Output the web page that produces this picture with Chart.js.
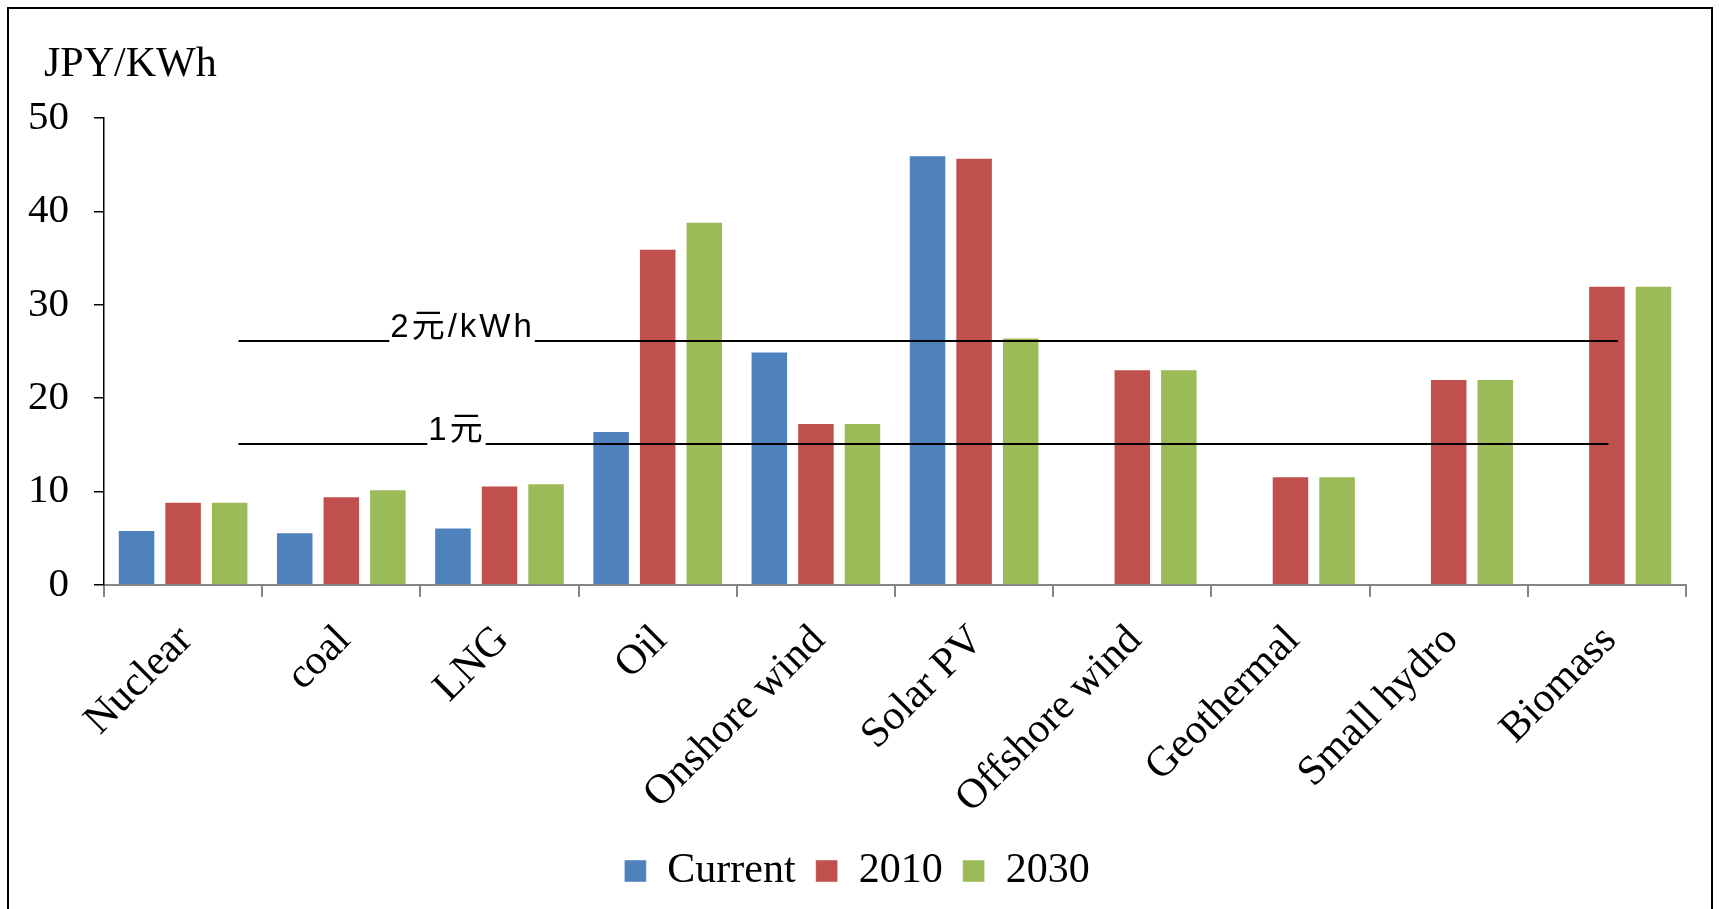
<!DOCTYPE html>
<html>
<head>
<meta charset="utf-8">
<script src="https://cdn.jsdelivr.net/npm/chart.js@4.4.0/dist/chart.umd.min.js"></script>
<style>
  html, body { margin: 0; padding: 0; background: #fff; }
  #wrap { width: 1719px; height: 909px; position: relative; }
</style>
</head>
<body>
<div id="wrap"><canvas id="chart"></canvas></div>
<script>
  var categories = ['Nuclear', 'coal', 'LNG', 'Oil', 'Onshore wind', 'Solar PV', 'Offshore wind', 'Geothermal', 'Small hydro', 'Biomass'];
  var current = [5.9, 5.65, 6.15, 16.5, 25.0, 46.0, null, null, null, null];
  var y2010 = [8.9, 9.5, 10.65, 36.0, 17.35, 45.75, 23.1, 11.65, 22.05, 32.05];
  var y2030 = [8.9, 10.25, 10.9, 38.9, 17.35, 26.5, 23.1, 11.65, 22.05, 32.05];
  var seriesNames = ['Current', '2010', '2030'];
  var yTicks = [0, 10, 20, 30, 40, 50];
  var unitLabel = 'JPY/KWh';

  // reference price lines (y value, span given in category units)
  var priceLines = [
    { text: '2元/kWh', value: 26.1, from: 0.35, to: 9.07, textAt: 1.31 },
    { text: '1元', value: 15.1, from: 0.35, to: 9.01, textAt: 1.55 }
  ];

  var colors = ['#4F81BD', '#C0504D', '#9BBB59'];
  var serif = '"Liberation Serif", "Times New Roman", serif';

  Chart.defaults.color = '#000';
  Chart.defaults.font.family = serif;

  var extras = {
    id: 'extras',
    beforeDraw: function(chart) {
      var ctx = chart.ctx;
      ctx.save();
      ctx.strokeStyle = '#000';
      ctx.lineWidth = 2;
      ctx.strokeRect(8, 8, chart.width - 15, chart.height + 40);
      ctx.restore();
    },
    afterDatasetsDraw: function(chart) {
      var ctx = chart.ctx;
      var xs = chart.scales.x, ys = chart.scales.y;
      ctx.save();
      ctx.font = '33px "Liberation Sans", "Noto Sans CJK SC", sans-serif';
      ctx.letterSpacing = '3px';
      ctx.fillStyle = '#000';
      ctx.strokeStyle = '#000';
      ctx.lineWidth = 2;
      ctx.textBaseline = 'alphabetic';
      priceLines.forEach(function(p) {
        var y = Math.round(ys.getPixelForValue(p.value));
        var x0 = xs.getPixelForValue(p.from);
        var x1 = xs.getPixelForValue(p.to);
        var tx = xs.getPixelForValue(p.textAt);
        var w = ctx.measureText(p.text).width;
        ctx.beginPath();
        ctx.moveTo(x0, y); ctx.lineTo(tx - 1, y);
        ctx.moveTo(tx + w, y); ctx.lineTo(x1, y);
        ctx.stroke();
        ctx.fillText(p.text, tx, y - 4);
      });
      ctx.restore();

      // unit label above the y axis
      ctx.save();
      ctx.font = '42px ' + serif;
      ctx.fillStyle = '#000';
      ctx.textBaseline = 'alphabetic';
      ctx.fillText(unitLabel, chart.chartArea.left - 60, chart.chartArea.top - 42);
      ctx.restore();
    }
  };

  new Chart(document.getElementById('chart'), {
    type: 'bar',
    data: {
      labels: categories,
      datasets: [current, y2010, y2030].map(function(d, i) {
        return {
          label: seriesNames[i],
          data: d,
          backgroundColor: colors[i],
          borderColor: 'rgba(255,255,255,0.45)',
          borderWidth: 1,
          categoryPercentage: 0.883,
          barPercentage: 0.806
        };
      })
    },
    options: {
      responsive: true,
      maintainAspectRatio: false,
      animation: false,
      layout: { padding: { left: 28, right: 33, top: 118, bottom: 7 } },
      plugins: {
        legend: {
          position: 'bottom',
          labels: {
            font: { size: 42, family: serif },
            boxWidth: 22,
            boxHeight: 22,
            padding: 20,
            color: '#000'
          }
        },
        tooltip: { enabled: false },
        title: { display: false }
      },
      scales: {
        x: {
          grid: {
            offset: true,
            drawOnChartArea: false,
            drawTicks: true,
            tickLength: 12,
            color: '#868686',
            lineWidth: 2
          },
          border: { color: '#868686', width: 2 },
          ticks: {
            font: { size: 42, family: serif },
            color: '#000',
            minRotation: 45,
            maxRotation: 45,
            autoSkip: false,
            padding: 19,
            labelOffset: 3
          },
          afterFit: function(s) { s.height = 245; }
        },
        y: {
          min: 0,
          max: 50,
          afterBuildTicks: function(s) {
            s.ticks = yTicks.map(function(v) { return { value: v }; });
          },
          grid: {
            drawOnChartArea: false,
            drawTicks: true,
            tickLength: 10,
            color: '#000',
            lineWidth: 1.5
          },
          border: { color: '#000', width: 1.5 },
          ticks: {
            font: { size: 41, family: serif },
            color: '#000',
            padding: 25
          },
          afterFit: function(s) { s.width = 76; }
        }
      }
    },
    plugins: [extras]
  });
</script>
</body>
</html>
